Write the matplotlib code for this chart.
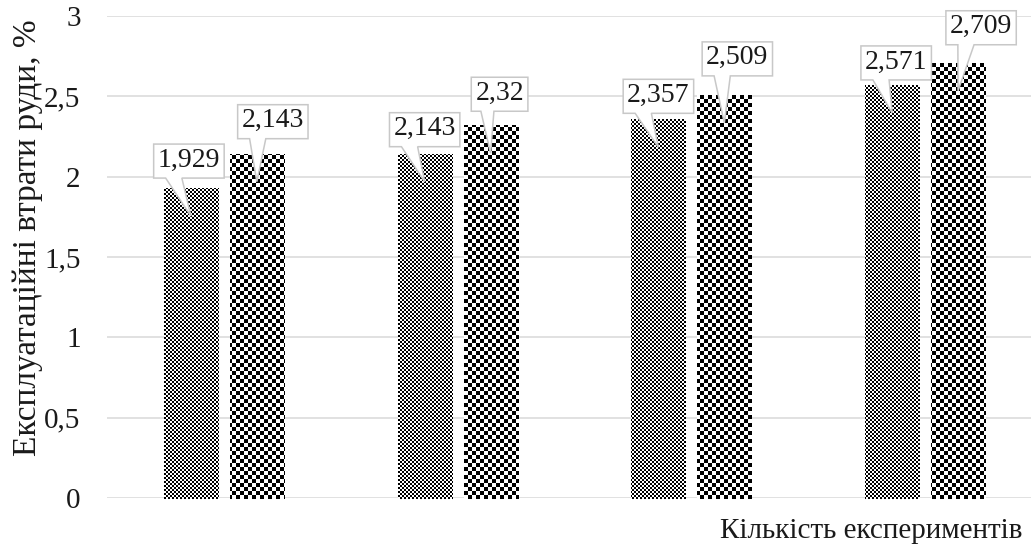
import numpy as np
import matplotlib
matplotlib.use("Agg")
import matplotlib.pyplot as plt
import matplotlib.transforms as mtransforms
from matplotlib.patches import Polygon
from matplotlib.ticker import FixedLocator, FuncFormatter

# ---- data ----
groups = [1, 2, 3, 4]
series_a = [1.929, 2.143, 2.357, 2.571]
series_b = [2.143, 2.32, 2.509, 2.709]
yticks = [0, 0.5, 1, 1.5, 2, 2.5, 3]
y_title = "Експлуатаційні втрати руди, %"
x_title = "Кількість експериментів"

# ---- callout placement (pixels, relative to the top centre of each bar) ----
# (horizontal shift of box centre, gap between bar top and box bottom)
callout_a = [(-2, 10), (0, 7), (0, 6), (4, 5)]
callout_b = [(16, 15), (9, 14), (13, 19), (23, 18)]

plt.rcParams['font.family'] = ['Liberation Serif', 'DejaVu Serif']

W, H, DPI = 1031, 551, 100
fig = plt.figure(figsize=(W / DPI, H / DPI), dpi=DPI)
fig.patch.set_facecolor('white')

ax = fig.add_axes([107 / W, 53 / H, 935 / W, 482 / H])
ax.set_xlim(0.5, 4.5)
ax.set_ylim(0, 3)
for s in ax.spines.values():
    s.set_visible(False)
ax.set_xticks([])
ax.yaxis.set_major_locator(FixedLocator(yticks))
ax.yaxis.set_major_formatter(FuncFormatter(lambda v, p: f"{v:g}".replace('.', ',')))
ax.tick_params(axis='y', length=0, pad=19, labelsize=21, colors='#1a1a1a')
ax.yaxis.grid(True, color='#d9d9d9', linewidth=1.1)
ax.set_axisbelow(True)

offset = 0.141
width = 0.231
x = np.array(groups, dtype=float)
bars_a = ax.bar(x - offset, series_a, width, color='white', edgecolor='none', zorder=2)
bars_b = ax.bar(x + offset, series_b, width, color='white', edgecolor='none', zorder=2)


def checker(cell):
    yy, xx = np.mgrid[0:H, 0:W]
    return (((xx // cell) + (yy // cell)) % 2).astype(float)


fine = checker(2)
coarse = checker(4)

for patterns, bars in ((fine, bars_a), (coarse, bars_b)):
    for bar in bars:
        im = fig.figimage(patterns, xo=0, yo=0, origin='lower', cmap='gray',
                          vmin=0, vmax=1, zorder=1)
        im.set_clip_path(bar)

# ---- data callouts ----
fig.canvas.draw()
renderer = fig.canvas.get_renderer()


def callout(xc, val, dx, gap):
    anchor = mtransforms.ScaledTranslation(xc, val, ax.transData)
    trans = mtransforms.Affine2D() + anchor
    label = f"{val:g}".replace('.', ',')
    t = fig.text(0, 0, label, fontsize=20, color='#1a1a1a', transform=trans,
                 ha='center', va='center', zorder=6)
    tw = t.get_window_extent(renderer).width
    w = tw + 8
    h = 34
    L, R = dx - w / 2, dx + w / 2
    B, T = gap, gap + h
    tl, tr = L + 0.17 * w, L + 0.40 * w
    verts = [(L, B), (tl, B), (0, -28), (tr, B), (R, B), (R, T), (L, T)]
    poly = Polygon(verts, closed=True, facecolor='white', edgecolor='#c8c8c8',
                   linewidth=1.1, transform=trans, zorder=5)
    fig.add_artist(poly)
    t.set_position((dx, B + h / 2 + 1))


for xi, v, (dx, gap) in zip(x - offset, series_a, callout_a):
    callout(xi, v, dx, gap)
for xi, v, (dx, gap) in zip(x + offset, series_b, callout_b):
    callout(xi, v, dx, gap)

fig.text(28 / W, 1 - 238 / H, y_title, rotation=90, ha='center', va='center',
         fontsize=24, color='#1a1a1a')
fig.text(1022 / W, 1 - 531 / H, x_title, ha='right', va='center',
         fontsize=21, color='#1a1a1a')

fig.savefig('out.png', dpi=DPI, facecolor='white')
